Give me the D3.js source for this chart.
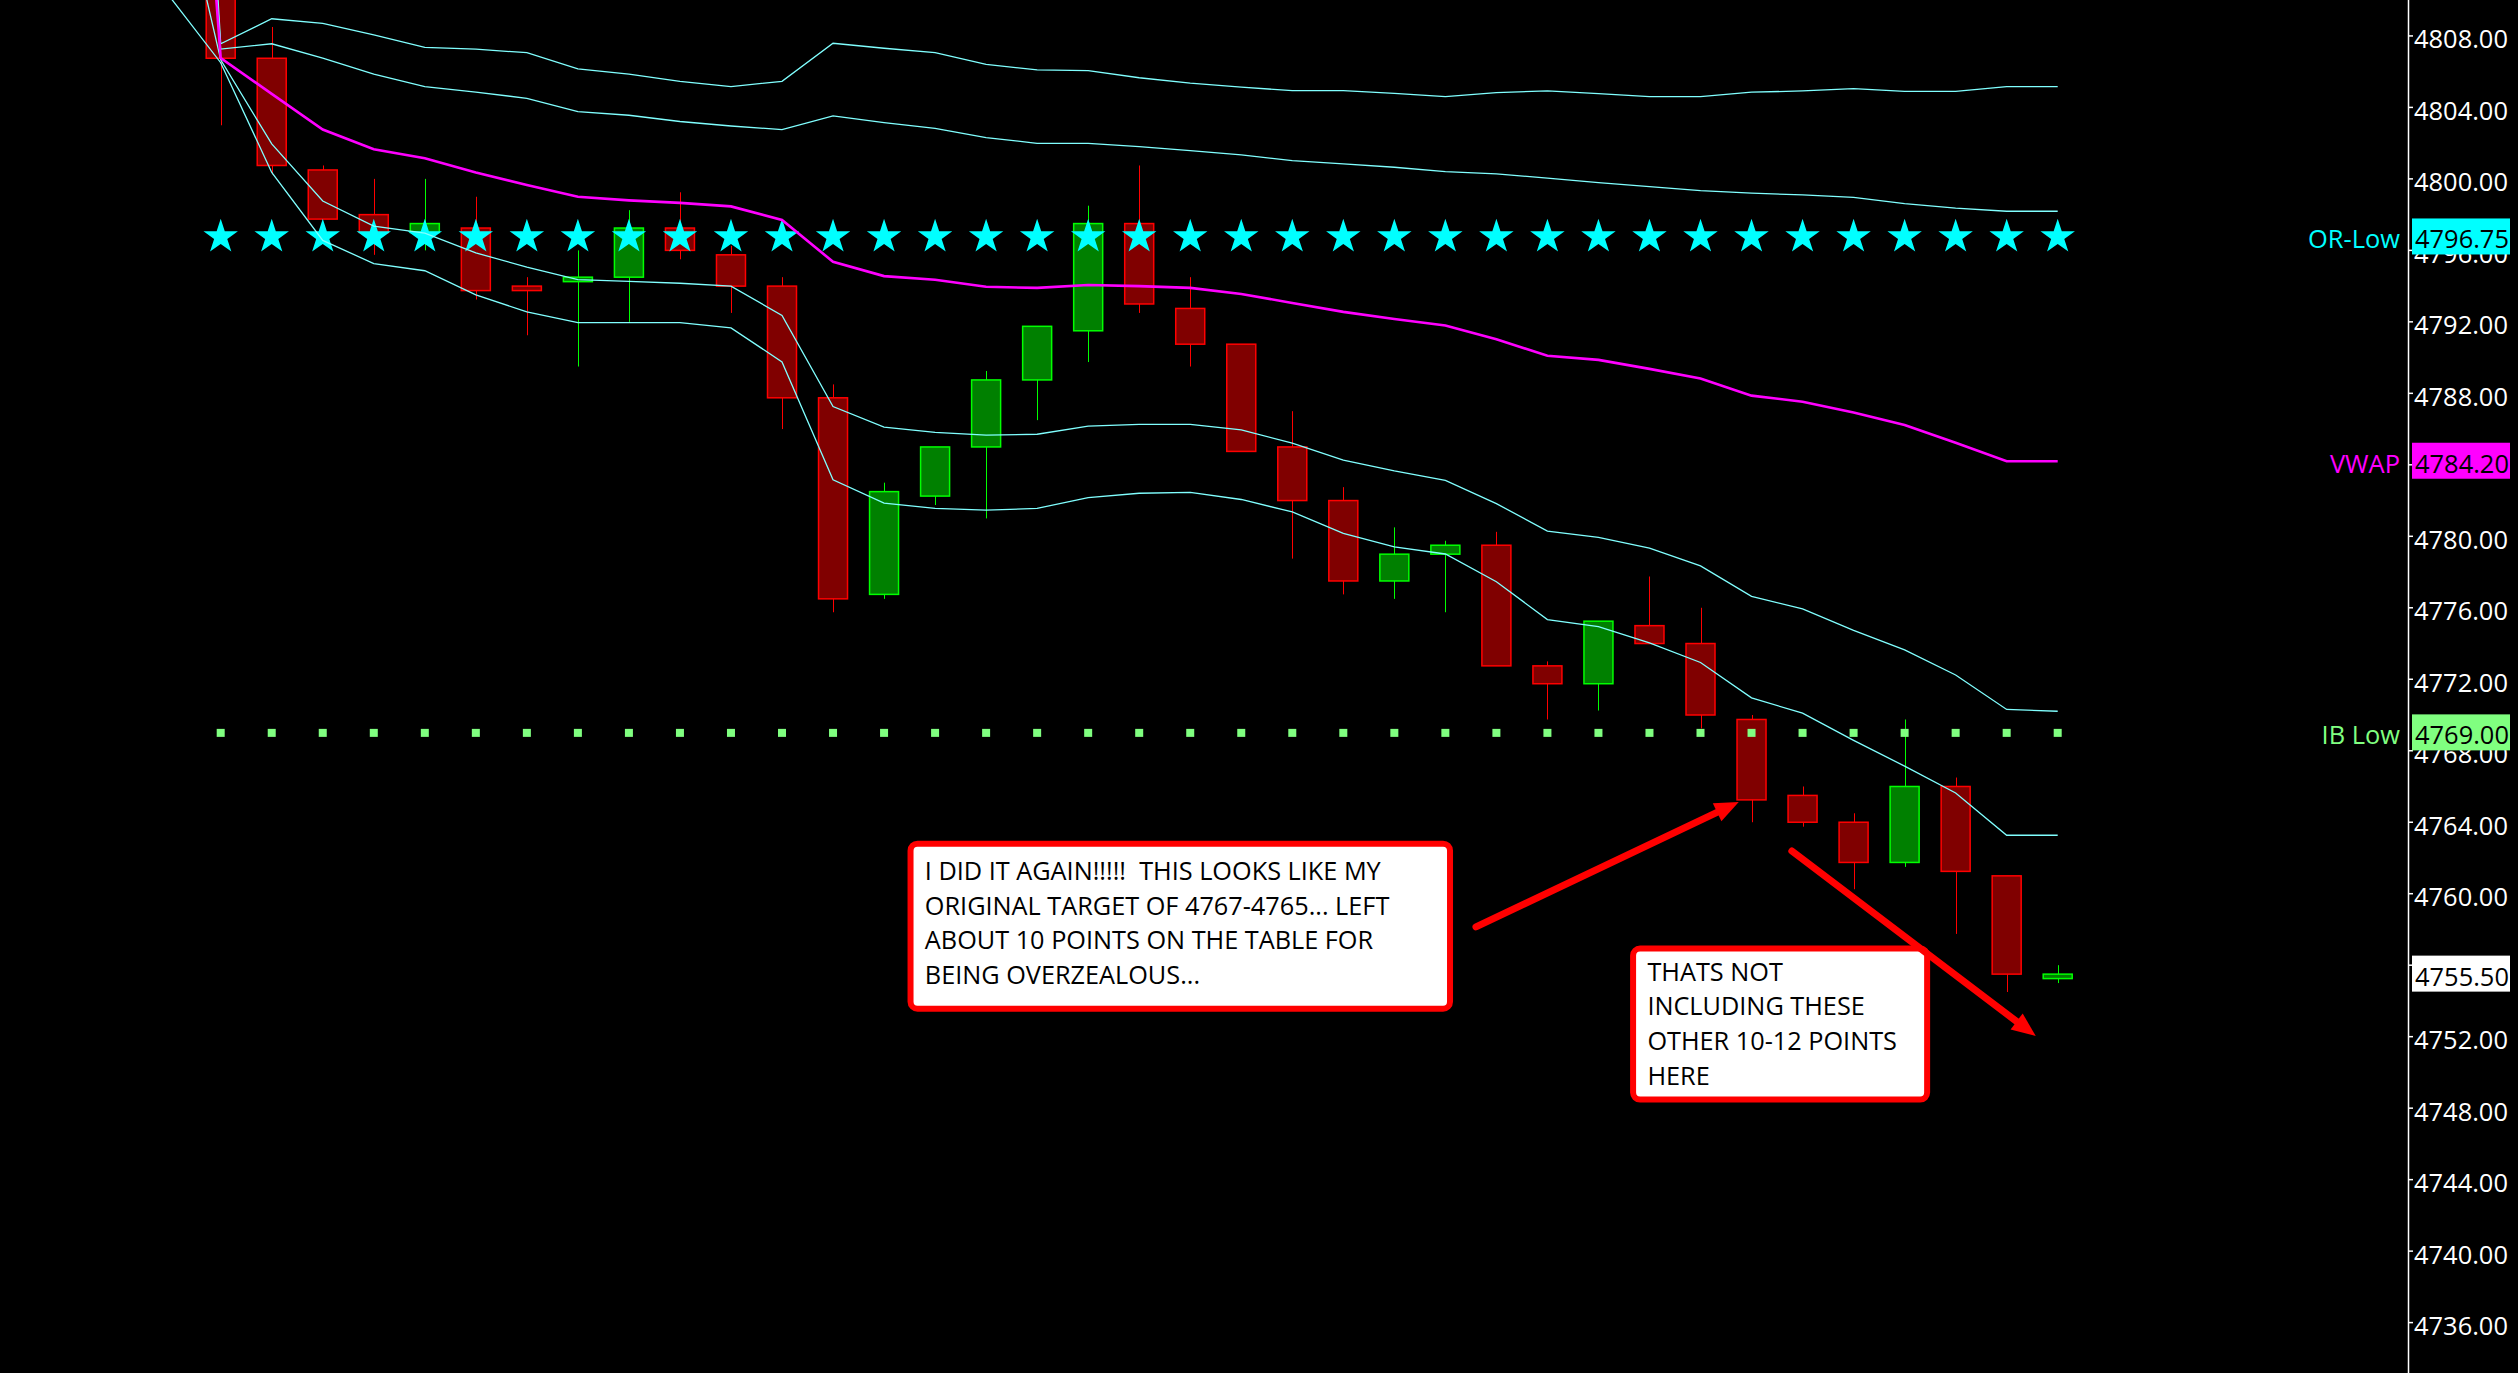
<!DOCTYPE html>
<html><head><meta charset="utf-8">
<script src="https://cdn.jsdelivr.net/npm/d3@7"></script>
<style>html,body{margin:0;padding:0;background:#000;overflow:hidden}</style>
</head><body><svg id="c" width="2518" height="1373"></svg>
<script>
// ---- data ----
const barIdx = [0,1,2,3,4,5,6,7,8,9,10,11,12,13,14,15,16,17,18,19,20,21,22,23,24,25,26,27,28,29,30,31,32,33,34,35,36];
const open  = [4812,4806.75,4800.5,4798.0,4797.0,4797.25,4794.0,4794.25,4794.5,4797.25,4795.75,4794.0,4787.75,4776.75,4782.25,4785.0,4788.75,4791.5,4797.5,4792.75,4790.75,4785.0,4782.0,4777.5,4779.0,4779.5,4772.75,4771.75,4775.0,4774.0,4769.75,4765.5,4764.0,4761.75,4766.0,4761.0,4755.25];
const high  = [4813,4808.5,4800.75,4800.0,4800.0,4799.0,4794.5,4796.0,4798.25,4799.25,4796.25,4794.5,4788.5,4783.0,4785.0,4789.25,4791.75,4798.5,4800.75,4794.5,4790.75,4787.0,4782.75,4780.5,4779.75,4780.25,4773.0,4775.25,4777.75,4776.0,4770.0,4766.0,4764.5,4769.75,4766.5,4761.0,4756.0];
const low   = [4803.0,4800.25,4797.75,4795.75,4796.0,4793.25,4791.25,4789.5,4792.0,4795.5,4792.5,4786.0,4775.75,4776.5,4781.75,4781.0,4786.5,4789.75,4792.5,4789.5,4784.75,4778.75,4776.75,4776.5,4775.75,4772.75,4769.75,4770.25,4774.0,4769.25,4764.0,4763.75,4760.25,4761.5,4757.75,4754.5,4755.0];
const close = [4806.75,4800.75,4797.75,4797.0,4797.5,4793.75,4793.75,4794.5,4797.25,4796.0,4794.0,4787.75,4776.5,4782.5,4785.0,4788.75,4791.75,4797.5,4793.0,4790.75,4784.75,4782.0,4777.5,4779.0,4779.5,4772.75,4771.75,4775.25,4774.0,4770.0,4765.25,4764.0,4761.75,4766.0,4761.25,4755.5,4755.5];

// study lines: first value belongs to the previous-session bar (index -1)
const lineIdx = [-1].concat(barIdx);
const vwap   = [4845,4806.76,4804.76,4802.76,4801.66,4801.16,4800.36,4799.66,4799.0,4798.8,4798.66,4798.46,4797.7,4795.36,4794.56,4794.36,4793.96,4793.9,4794.06,4794.0,4793.9,4793.56,4793.06,4792.56,4792.16,4791.8,4791.03,4790.1,4789.87,4789.37,4788.83,4787.87,4787.53,4786.93,4786.23,4785.23,4784.2,4784.2];
const upper2 = [4855,4807.56,4808.96,4808.7,4808.06,4807.36,4807.26,4807.06,4806.16,4805.86,4805.46,4805.16,4805.46,4807.59,4807.31,4807.06,4806.41,4806.1,4806.06,4805.66,4805.36,4805.13,4804.94,4804.94,4804.79,4804.6,4804.83,4804.93,4804.77,4804.6,4804.6,4804.85,4804.92,4805.05,4804.9,4804.9,4805.16,4805.16];
const upper1 = [4850,4807.26,4807.56,4806.76,4805.86,4805.16,4804.86,4804.51,4803.76,4803.56,4803.21,4802.96,4802.76,4803.52,4803.15,4802.83,4802.31,4801.99,4801.99,4801.81,4801.58,4801.34,4801.02,4800.84,4800.65,4800.41,4800.28,4800.04,4799.79,4799.57,4799.34,4799.2,4799.1,4798.97,4798.62,4798.36,4798.19,4798.19];
const lower1 = [4819,4806.66,4801.96,4798.76,4797.36,4796.96,4795.86,4795.06,4794.36,4794.26,4794.16,4794.0,4792.36,4787.26,4786.11,4785.81,4785.66,4785.71,4786.16,4786.26,4786.26,4785.96,4785.21,4784.26,4783.66,4783.13,4781.83,4780.29,4779.94,4779.34,4778.34,4776.64,4775.94,4774.74,4773.64,4772.24,4770.31,4770.21];
const lower2 = [4810.2,4806.5,4800.36,4796.56,4795.26,4794.86,4793.51,4792.56,4791.96,4791.96,4791.96,4791.66,4789.76,4783.16,4781.86,4781.56,4781.46,4781.56,4782.16,4782.41,4782.46,4782.06,4781.36,4780.16,4779.41,4779.01,4777.46,4775.34,4774.94,4774.04,4772.94,4770.96,4770.1,4768.58,4767.14,4765.64,4763.27,4763.27];

const orLow = 4796.75;
const ibLow = 4769.00;
const tickValues = [4736,4740,4744,4748,4752,4756,4760,4764,4768,4772,4776,4780,4784,4788,4792,4796,4800,4804,4808];

const levelLabels = [
  {name:"OR-Low", value:orLow, color:"#00ffff"},
  {name:"VWAP", value:vwap[vwap.length-1], color:"#ff00ff"},
  {name:"IB Low", value:ibLow, color:"#80ff80"},
  {name:"", value:close[close.length-1], color:"#ffffff"}
];

const notes = [
  {lines:["I DID IT AGAIN!!!!!  THIS LOOKS LIKE MY","ORIGINAL TARGET OF 4767-4765... LEFT","ABOUT 10 POINTS ON THE TABLE FOR","BEING OVERZEALOUS..."],
   b0:13.46, b1:24.15, v0:4762.97, v1:4753.40, firstBase:39.3},
  {lines:["THATS NOT","INCLUDING THESE","OTHER 10-12 POINTS","HERE"],
   b0:27.62, b1:33.50, v0:4757.10, v1:4748.31, firstBase:35.3}
];
const arrows = [
  {b0:24.60, v0:4758.14, b1:29.75, v1:4765.13},
  {b0:30.79, v0:4762.39, b1:35.57, v1:4752.04}
];

// ---- drawing ----
const W = 2518, H = 1373, axisX = 2408;
const FONT = "'Open Sans', 'Noto Sans', sans-serif";
const svg = d3.select("#c");
svg.append("rect").attr("width",W).attr("height",H).attr("fill","#000");

const x = d3.scaleLinear().domain([0,36]).range([220.7,2057.7]);
const y = d3.scaleLinear().domain([4733.18,4810.01]).range([H,0]);

svg.append("defs").append("clipPath").attr("id","plot")
  .append("rect").attr("x",0).attr("y",0).attr("width",axisX).attr("height",H);
const g = svg.append("g").attr("clip-path","url(#plot)");

const candles = barIdx.map((b,k)=>({b,o:open[k],h:high[k],l:low[k],c:close[k],up:close[k]>=open[k]}));
const bodyW = 29;
g.selectAll("line.wick").data(candles).join("line").attr("class","wick")
  .attr("x1",d=>Math.round(x(d.b))+0.5).attr("x2",d=>Math.round(x(d.b))+0.5)
  .attr("y1",d=>y(d.h)).attr("y2",d=>y(d.l))
  .attr("stroke",d=>d.up?"#00ff00":"#ff0000").attr("stroke-width",1);
g.selectAll("rect.body").data(candles).join("rect").attr("class","body")
  .attr("x",d=>x(d.b)-bodyW/2).attr("width",bodyW)
  .attr("y",d=>y(Math.max(d.o,d.c)))
  .attr("height",d=>Math.max(1,Math.abs(y(d.o)-y(d.c))))
  .attr("fill",d=>d.up?"#008000":"#800000")
  .attr("stroke",d=>d.up?"#00ff00":"#ff0000").attr("stroke-width",1.5);

// OR-Low stars
const star = d3.symbol(d3.symbolStar, 368);
g.selectAll("path.star").data(barIdx).join("path").attr("class","star")
  .attr("d",star).attr("transform",d=>`translate(${x(d)},${y(orLow)})`)
  .attr("fill","#00ffff");
// IB low dots
g.selectAll("rect.ib").data(barIdx).join("rect").attr("class","ib")
  .attr("x",d=>x(d)-4).attr("y",y(ibLow)-4).attr("width",8).attr("height",8)
  .attr("fill","#80ff80");

// lines
const line = d3.line().x(d=>x(d[0])).y(d=>y(d[1]));
[upper2,upper1,lower1,lower2].forEach(arr=>{
  g.append("path").datum(lineIdx.map((b,k)=>[b,arr[k]]))
    .attr("d",line).attr("fill","none").attr("stroke","#80ffff").attr("stroke-width",1.3);
});
g.append("path").datum(lineIdx.map((b,k)=>[b,vwap[k]]))
  .attr("d",line).attr("fill","none").attr("stroke","#ff00ff").attr("stroke-width",2.6);

// notes
const ng = svg.append("g");
const probe = ng.append("text").attr("font-family",FONT).attr("font-size",26)
  .style("white-space","pre").text(notes[0].lines[0]);
const pw = probe.node().getComputedTextLength();
probe.remove();
const noteSize = 26*456/pw;
notes.forEach(n=>{
  const x0 = x(n.b0), x1 = x(n.b1), y0 = y(n.v0), y1 = y(n.v1);
  ng.append("rect").attr("x",x0+3).attr("y",y0+3).attr("width",x1-x0-6).attr("height",y1-y0-6)
    .attr("rx",7).attr("fill","#fff").attr("stroke","#ff0000").attr("stroke-width",6);
  ng.selectAll(null).data(n.lines).join("text")
    .attr("x",x0+17.3).attr("y",(d,i)=>y0+n.firstBase+i*34.6)
    .attr("font-family",FONT).attr("font-size",noteSize).attr("fill","#000")
    .style("white-space","pre").text(d=>d);
});
arrows.forEach(a=>{
  const x0=x(a.b0), y0=y(a.v0), x1=x(a.b1), y1=y(a.v1);
  const dx=x1-x0, dy=y1-y0, L=Math.hypot(dx,dy), ux=dx/L, uy=dy/L;
  const hl=24, hw=10;
  const bx=x1-ux*hl, by=y1-uy*hl;
  ng.append("line").attr("x1",x0).attr("y1",y0).attr("x2",bx+ux*4).attr("y2",by+uy*4)
    .attr("stroke","#ff0000").attr("stroke-width",7).attr("stroke-linecap","round");
  ng.append("path").attr("d",`M${x1},${y1}L${bx-uy*hw},${by+ux*hw}L${bx+uy*hw},${by-ux*hw}Z`)
    .attr("fill","#ff0000");
});

// right axis
const ag = svg.append("g");
ag.append("line").attr("x1",axisX+0.5).attr("x2",axisX+0.5).attr("y1",0).attr("y2",H)
  .attr("stroke","#fff").attr("stroke-width",1.5);
const probe2 = ag.append("text").attr("font-family",FONT).attr("font-size",26).text("4808.00");
const aw = probe2.node().getComputedTextLength(); probe2.remove();
const axSize = 26*94/aw;
// tick labels fully hidden behind a level box are not drawn (as in the reference)
const covered = v => levelLabels.some(l => Math.abs(y(v) - y(l.value)) < 10);
ag.selectAll("line.tick").data(tickValues).join("line").attr("class","tick")
  .attr("x1",axisX).attr("x2",axisX+5).attr("y1",d=>y(d)).attr("y2",d=>y(d))
  .attr("stroke","#fff").attr("stroke-width",1.5);
ag.selectAll("text.tl").data(tickValues.filter(v=>!covered(v))).join("text").attr("class","tl")
  .attr("x",axisX+6).attr("y",d=>y(d)+2.5).attr("dominant-baseline","central")
  .attr("font-family",FONT).attr("font-size",axSize).attr("fill","#fff")
  .text(d=>d3.format(".2f")(d));

levelLabels.forEach(l=>{
  const yy = y(l.value);
  ag.append("rect").attr("x",axisX+4).attr("y",yy-18.5).attr("width",98).attr("height",36)
    .attr("fill",l.color);
  ag.append("text").attr("x",axisX+7).attr("y",yy+1.5).attr("dominant-baseline","central")
    .attr("font-family",FONT).attr("font-size",axSize).attr("fill","#000")
    .text(d3.format(".2f")(l.value));
  if(l.name){
    ag.append("text").attr("x",axisX-8).attr("y",yy+1.5).attr("dominant-baseline","central")
      .attr("text-anchor","end").attr("font-family",FONT).attr("font-size",axSize)
      .attr("fill",l.color).text(l.name);
  }
});
</script></body></html>
